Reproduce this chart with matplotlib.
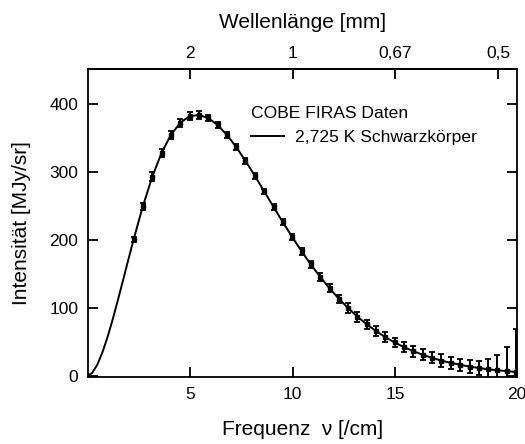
import matplotlib
matplotlib.use("Agg")
import matplotlib.pyplot as plt
from matplotlib.lines import Line2D

plt.rcParams['font.family'] = ['Liberation Sans', 'DejaVu Sans']

# COBE FIRAS data points (frequency in /cm, intensity in MJy/sr)
freq = [2.27, 2.72, 3.18, 3.63, 4.08, 4.54, 4.99, 5.45, 5.90, 6.35,
        6.81, 7.26, 7.71, 8.17, 8.62, 9.08, 9.53, 9.98, 10.44, 10.89,
        11.34, 11.80, 12.25, 12.71, 13.16, 13.61, 14.07, 14.52, 14.97, 15.43,
        15.88, 16.34, 16.79, 17.24, 17.70, 18.15, 18.61, 19.06, 19.51, 19.97,
        20.42, 20.87]
intensity = [200.7, 249.5, 293.0, 327.8, 354.1, 372.1, 381.5, 383.5, 378.9, 368.8,
             354.1, 336.3, 316.1, 293.9, 271.4, 248.2, 225.9, 204.3, 183.3, 163.8,
             145.8, 128.8, 113.6, 99.5, 87.0, 75.9, 65.8, 57.0, 49.2, 42.3,
             36.4, 31.1, 26.6, 22.6, 19.3, 16.4, 13.8, 11.7, 9.9, 8.4,
             7.1, 5.8]
# error bars as drawn in the chart (enlarged)
error = [4, 5, 6, 6, 6, 6, 6, 6, 5, 5,
         4, 4, 4, 4, 4, 4, 4, 4, 5, 5,
         6, 6, 6, 7, 7, 7, 7, 7, 7, 7,
         8, 8, 8, 9, 9, 9, 9, 10, 15, 22,
         35, 63]

# 2,725 K blackbody curve below the first data point
curve_freq = [0.0, 0.25, 0.5, 0.75, 1.0, 1.25, 1.5, 1.75, 2.0]
curve_int = [0.0, 4.4, 16.4, 34.5, 57.1, 83.0, 111.0, 140.1, 169.5]

top_ticks = [5, 10, 15, 20]
top_labels = ['2', '1', '0,67', '0,5']
y_ticks = [0, 100, 200, 300, 400]

fig = plt.figure(figsize=(5.25, 4.44), dpi=100)
ax = fig.add_axes([88 / 525, 1 - 377 / 444, 429 / 525, 308 / 444])

ax.plot(curve_freq + freq, curve_int + intensity, color='black', lw=1.4)
ax.errorbar(freq, intensity, yerr=error, fmt='s', ms=3.5, color='black',
            ecolor='black', elinewidth=1.4, capsize=2.5, capthick=1.3)

xmax = 20.92
ax.set_xlim(0.05, xmax)
ax.set_ylim(-1.5, 451)

# bottom axis: the "20" label sits at the right edge, as in the original figure
ax.set_xticks([5, 10, 15, xmax])
ax.set_xticklabels(['5', '10', '15', '20'])
ax.set_yticks(y_ticks)

ax.tick_params(direction='in', length=7, width=1.3, labelsize=12.5,
               right=True, top=False, pad=7)
for s in ax.spines.values():
    s.set_linewidth(1.3)

top = ax.secondary_xaxis('top')
top.set_xticks(top_ticks)
top.set_xticklabels(top_labels)
top.tick_params(direction='in', length=7, width=1.3, labelsize=12.5, pad=6)
top.spines['top'].set_linewidth(1.3)
top.set_xlabel('Wellenlänge [mm]', fontsize=15, labelpad=13)

ax.set_xlabel('Frequenz  ν [/cm]', fontsize=15, labelpad=13)
ax.set_ylabel('Intensität [MJy/sr]', fontsize=15, labelpad=13)

leg = ax.legend(handles=[Line2D([], [], color='black', lw=1.4)],
                labels=['2,725 K Schwarzkörper'], title='COBE FIRAS Daten',
                loc='upper left', bbox_to_anchor=(0.359, 0.907),
                frameon=False, fontsize=12.6, title_fontsize=12.6,
                handlelength=1.9, handletextpad=0.6, borderpad=0,
                alignment='left')

fig.savefig('out.png', dpi=100)
